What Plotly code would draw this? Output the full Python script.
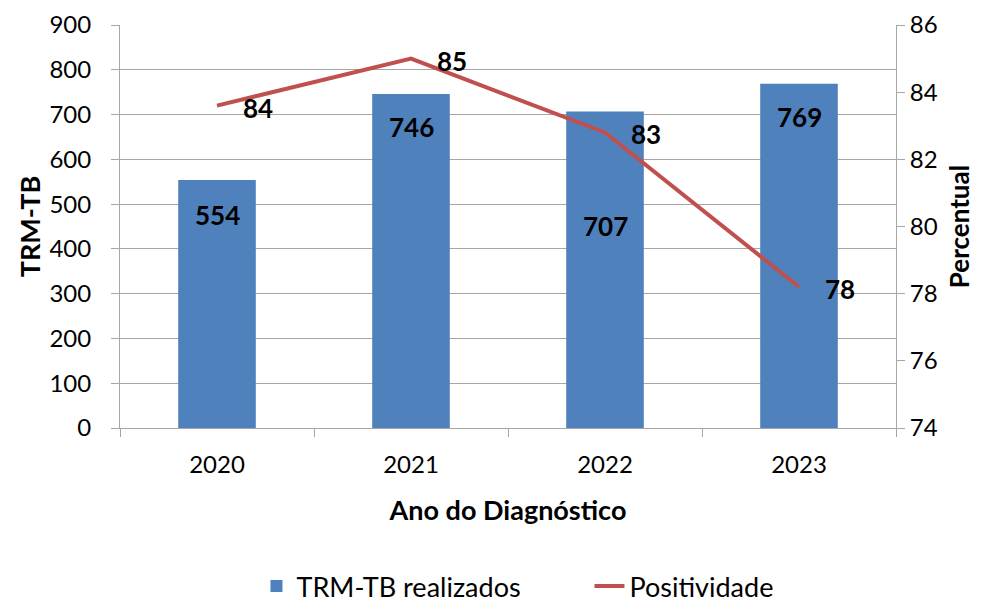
import plotly.graph_objects as go

anos = ["2020", "2021", "2022", "2023"]
trm_realizados = [554, 746, 707, 769]
positividade = [83.6, 85.0, 82.8, 78.2]
positividade_labels = ["84", "85", "83", "78"]
bar_label_shift = [-35, -33, -115, -33]
y_ticks_left = [0, 100, 200, 300, 400, 500, 600, 700, 800, 900]
y_ticks_right = [74, 76, 78, 80, 82, 84, 86]

FONT = "Lato, 'Open Sans', sans-serif"
GRID = "#A6A6A6"

fig = go.Figure()
fig.add_trace(go.Bar(
    x=anos, y=trm_realizados, name="TRM-TB realizados",
    marker=dict(color="#4F81BD", line=dict(width=0)), width=0.4,
))
fig.add_trace(go.Scatter(
    x=anos, y=positividade, name="Positividade", yaxis="y2",
    mode="lines", line=dict(color="#C0504D", width=4),
))

annotations = []
for i, (v, s) in enumerate(zip(trm_realizados, bar_label_shift)):
    annotations.append(dict(x=i, y=v, yref="y", xref="x", text=f"<b>{v}</b>",
                            showarrow=False, yshift=s,
                            font=dict(size=26, color="black", family=FONT)))
for i, (v, t) in enumerate(zip(positividade, positividade_labels)):
    annotations.append(dict(x=i, y=v, yref="y2", xref="x", text=f"<b>{t}</b>",
                            showarrow=False, xshift=41, yshift=-2,
                            font=dict(size=26, color="black", family=FONT)))

fig.update_layout(
    width=986, height=594,
    margin=dict(l=112, r=98, t=17, b=174, autoexpand=False),
    paper_bgcolor="white", plot_bgcolor="white",
    font=dict(family=FONT, size=24, color="black"),
    showlegend=True,
    legend=dict(orientation="h", xref="container", x=0.252, xanchor="left",
                yref="container", y=0.026, yanchor="middle",
                font=dict(size=27), traceorder="normal", entrywidth=288),
    xaxis=dict(type="category", range=[-0.5, 3.5], showline=True, linecolor=GRID, linewidth=1,
               ticks="outside", tickson="boundaries", tickcolor=GRID, ticklen=8,
               showgrid=False, tickfont=dict(size=24), tickangle=0, automargin=False,
               ticklabelstandoff=15,
               title=dict(text="<b>Ano do Diagnóstico</b>", font=dict(size=27), standoff=24)),
    yaxis=dict(range=[0, 900], tickvals=y_ticks_left, showline=True, linecolor=GRID,
               ticks="outside", tickcolor=GRID, ticklen=8, showgrid=True, gridcolor=GRID,
               gridwidth=1, zeroline=False, tickfont=dict(size=24), automargin=False,
               ticklabelstandoff=15,
               title=dict(text="<b>TRM-TB</b>", font=dict(size=27), standoff=0)),
    yaxis2=dict(range=[74, 86], tickvals=y_ticks_right, overlaying="y", side="right",
                anchor="x", showline=True, linecolor=GRID, ticks="outside", tickcolor=GRID,
                ticklen=8,
                showgrid=False, zeroline=False, tickfont=dict(size=24), automargin=False,
                title=dict(text="<b>Percentual</b>", font=dict(size=26), standoff=14)),
    annotations=annotations,
)

fig.write_html("out.html")
